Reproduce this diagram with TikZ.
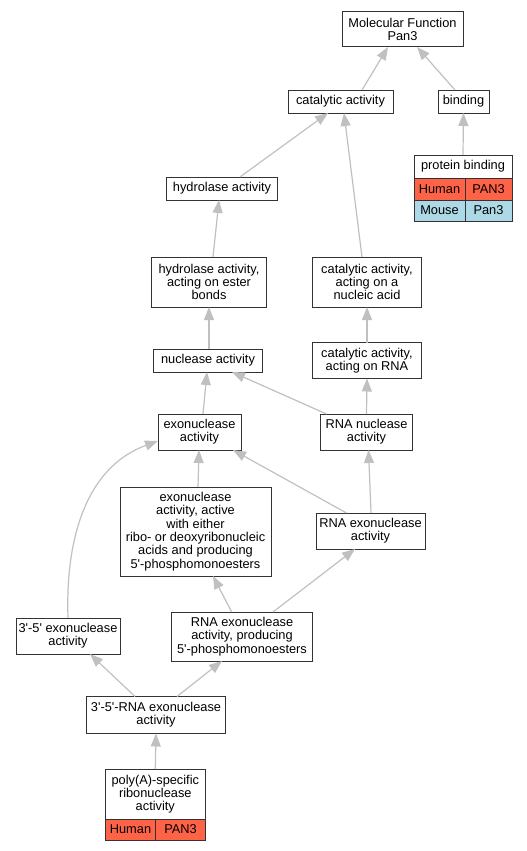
\documentclass[tikz,border=0pt]{standalone}
\usepackage{fontspec}
\setmainfont{Liberation Sans}
\usetikzlibrary{calc, arrows.meta, positioning}

\definecolor{edgegray}{HTML}{C0C0C0}
\definecolor{human}{HTML}{FF6347}
\definecolor{mouse}{HTML}{ADD8E6}
\newcommand{\apos}{\textquotesingle}

\begin{document}
\begin{tikzpicture}[
    x=1pt, y=-1pt,
    >={Triangle[length=13pt, width=10pt]},
    term/.style={rectangle, draw=black!80, line width=1pt, fill=white,
        inner sep=0pt, outer sep=0pt, align=center, text=black,
        font=\fontsize{12.8}{13.3}\selectfont},
    humancell/.style={term, fill=human},
    mousecell/.style={term, fill=mouse},
    edge/.style={->, draw=edgegray, line width=1.2pt}
]
    \useasboundingbox (0,0) rectangle (527,851);

    % Nodes ------------------------------------------------------

    \node[term, minimum width=121pt, minimum height=35pt] (mf) at (402.5,29.5) {Molecular Function\\Pan3};
    \node[term, minimum width=105pt, minimum height=23pt] (cat) at (340.5,101.5) {catalytic activity};
    \node[term, minimum width=51pt, minimum height=23pt] (bind) at (463.5,101.5) {binding};
    \node[term, minimum width=111pt, minimum height=23pt] (hyd) at (222,188.5) {hydrolase activity};
    \node[term, minimum width=115pt, minimum height=50pt] (hest) at (209,282) {hydrolase activity,\\acting on ester\\bonds};
    \node[term, minimum width=109pt, minimum height=50pt] (cna) at (367,282) {catalytic activity,\\acting on a\\nucleic acid};
    \node[term, minimum width=109pt, minimum height=23pt] (nuc) at (208,360.5) {nuclease activity};
    \node[term, minimum width=109pt, minimum height=36pt] (crna) at (367,360.5) {catalytic activity,\\acting on RNA};
    \node[term, minimum width=83pt, minimum height=36pt] (exo) at (199.5,432) {exonuclease\\activity};
    \node[term, minimum width=92pt, minimum height=36pt] (rnanuc) at (366.5,432) {RNA nuclease\\activity};
    \node[term, minimum width=151pt, minimum height=89pt] (exoact) at (195.5,531.5) {exonuclease\\activity, active\\with either\\ribo- or deoxyribonucleic\\acids and producing\\5\apos-phosphomonoesters};
    \node[term, minimum width=109pt, minimum height=36pt] (rnaexo) at (370.5,531) {RNA exonuclease\\activity};
    \node[term, minimum width=104pt, minimum height=36pt] (e35) at (68,636) {3\apos-5\apos{} exonuclease\\activity};
    \node[term, minimum width=141pt, minimum height=49pt] (rnaprod) at (242,636.5) {RNA exonuclease\\activity, producing\\5\apos-phosphomonoesters};
    \node[term, minimum width=139pt, minimum height=37pt] (r35) at (156,715) {3\apos-5\apos-RNA exonuclease\\activity};

    % annotated terms
    \node[term, minimum width=98pt, minimum height=23pt] (pb) at (463,166.5) {protein binding};
    \node[humancell, minimum width=51pt, minimum height=22pt, below right=0pt of pb.south west] (pb_h) {Human};
    \node[humancell, minimum width=47pt, minimum height=22pt, right=0pt of pb_h] (pb_hg) {PAN3};
    \node[mousecell, minimum width=51pt, minimum height=21pt, below right=0pt of pb_h.south west] (pb_m) {Mouse};
    \node[mousecell, minimum width=47pt, minimum height=21pt, right=0pt of pb_m] (pb_mg) {Pan3};

    \node[term, minimum width=100pt, minimum height=50pt] (pa) at (155.3,794) {poly(A)-specific\\ribonuclease\\activity};
    \node[humancell, minimum width=50.4pt, minimum height=21pt, below right=0pt of pa.south west] (pa_h) {Human};
    \node[humancell, minimum width=49.6pt, minimum height=21pt, right=0pt of pa_h] (pa_hg) {PAN3};

    % Arrows ---------------------------------------------------

    \draw[edge] ($(cat.north)+(21.5,0)$) -- ($(mf.south)+(-14.5,0)$);
    \draw[edge] ($(bind.north)+(-8.5,0)$) -- ($(mf.south)+(14.5,0)$);
    \draw[edge] (pb.north) -- (bind.south);
    \draw[edge] ($(hyd.north)+(18,0)$) -- ($(cat.south)+(-12.5,0)$);
    \draw[edge] ($(cna.north)+(-5,0)$) -- ($(cat.south)+(3.5,0)$);
    \draw[edge] ($(hest.north)+(4,0)$) -- ($(hyd.south)+(-3,0)$);
    \draw[edge] (crna.north) -- (cna.south);
    \draw[edge] ($(nuc.north)+(1,0)$) -- (hest.south);
    \draw[edge] ($(exo.north)+(3.5,0)$) -- ($(nuc.south)+(-1,0)$);
    \draw[edge] ($(rnanuc.north)+(-40,0)$) -- ($(nuc.south)+(24,0)$);
    \draw[edge] (rnanuc.north) -- (crna.south);
    \draw[edge] ($(exoact.north)+(2.5,0)$) -- ($(exo.south)+(-0.5,0)$);
    \draw[edge] ($(rnaexo.north)+(-24,0)$) -- ($(exo.south)+(33.5,0)$);
    \draw[edge] ($(rnaexo.north)+(0.5,0)$) -- ($(rnanuc.south)+(2,0)$);
    \draw[edge] (e35.north) to[out=92, in=200, looseness=1] ($(exo.west)+(0,9)$);
    \draw[edge] ($(rnaprod.north)+(-10.3,0)$) -- ($(exoact.south)+(17.5,0)$);
    \draw[edge] ($(rnaprod.north)+(31,0)$) -- ($(rnaexo.south)+(-15.5,0)$);
    \draw[edge] ($(r35.north)+(-21,0)$) -- ($(e35.south)+(22,0)$);
    \draw[edge] ($(r35.north)+(21,0)$) -- ($(rnaprod.south)+(-20,0)$);
    \draw[edge] (pa.north) -- (r35.south);

\end{tikzpicture}
\end{document}
